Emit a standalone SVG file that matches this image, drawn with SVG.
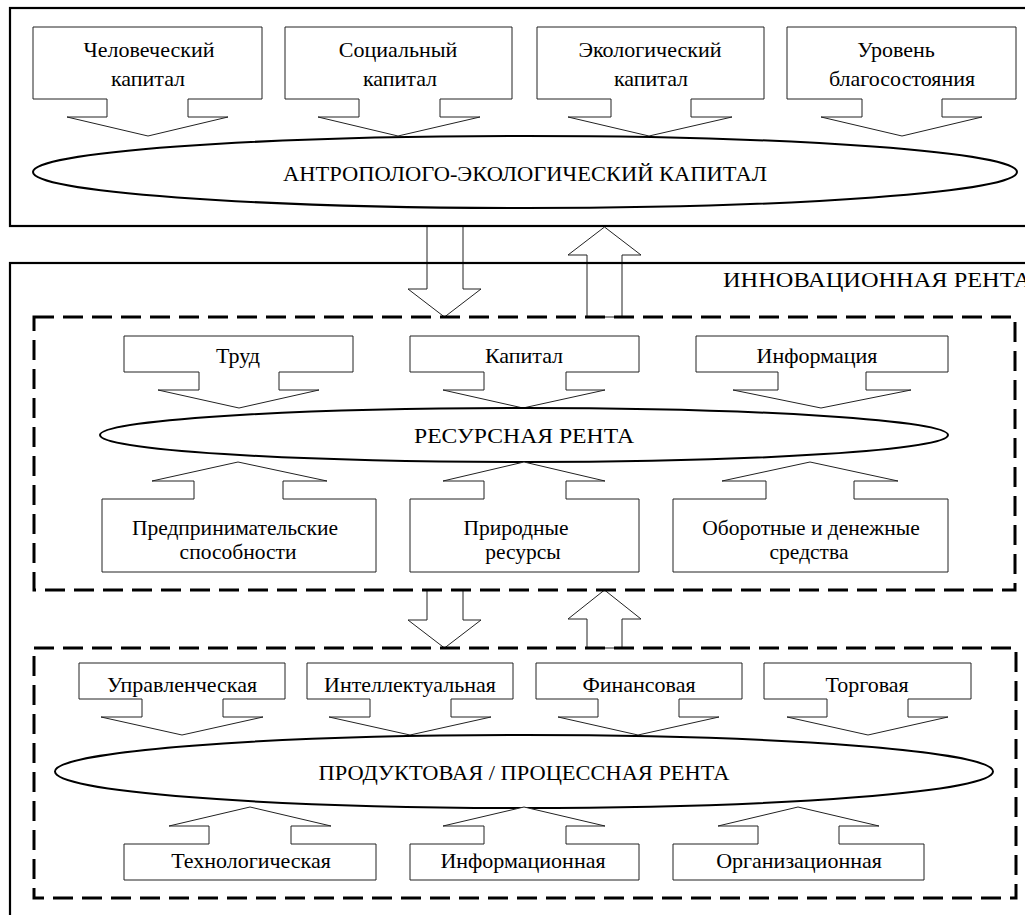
<svg xmlns="http://www.w3.org/2000/svg" width="1025" height="915" viewBox="0 0 1025 915">
<style>
text{font-family:"Liberation Serif","Times New Roman",serif;font-size:22px;fill:#000;text-anchor:middle}
.two{font-size:21.5px}
.node{fill:#fff;stroke:#222;stroke-width:1}
.ell{fill:#fff;stroke:#000;stroke-width:2}
.frame{fill:none;stroke:#000;stroke-width:2.2}
.dash{fill:none;stroke:#000;stroke-width:3;stroke-dasharray:20 9}
.arrow{fill:none;stroke:#222;stroke-width:1}
</style>
<rect width="1025" height="915" fill="#fff"/>
<g id="connectors">
<path class="arrow" d="M427 226V289H408L444.5 317L481 289H463V226"/>
<path class="arrow" d="M587 317V255H568L604.5 227L641 255H622V317Z"/>
<path class="arrow" d="M427 590V620H408L444.5 648L481 620H463V590"/>
<path class="arrow" d="M587 648V619H568L604.5 590L641 619H622V648Z"/>
</g>
<g id="frame-top"><rect class="frame" x="10" y="8" width="1030" height="218"/></g>
<g id="frame-innov"><rect class="frame" x="10" y="263" width="1030" height="700"/>
<text x="723" y="287" style="text-anchor:start" textLength="308" lengthAdjust="spacingAndGlyphs">ИННОВАЦИОННАЯ РЕНТА</text></g>
<g id="frame-resource"><rect class="dash" x="34" y="317" width="981" height="273"/></g>
<g id="frame-product"><rect class="dash" x="34" y="648" width="982" height="250"/></g>

<g id="n-human"><path class="node" d="M33 27H262V99H188V117H228L148 136L67 117H107V99H33Z"/><text x="149" y="57">Человеческий</text><text x="148" y="86">капитал</text></g>
<g id="n-social"><path class="node" d="M285 27H512V99H440V117H480L398 136L318 117H359V99H285Z"/><text x="398" y="57">Социальный</text><text x="400" y="86">капитал</text></g>
<g id="n-eco"><path class="node" d="M537 27H764V99H691V117H732L649 136L568 117H611V99H537Z"/><text x="650" y="57">Экологический</text><text x="651" y="86">капитал</text></g>
<g id="n-welfare"><path class="node" d="M787 27H1016V99H942V117H982L902 136L821 117H862V99H787Z"/><text x="896" y="57">Уровень</text><text x="902" y="86">благосостояния</text></g>
<g id="e-anthro"><ellipse class="ell" cx="525" cy="172" rx="492" ry="36"/><text x="525" y="181" textLength="484" lengthAdjust="spacingAndGlyphs">АНТРОПОЛОГО-ЭКОЛОГИЧЕСКИЙ КАПИТАЛ</text></g>

<g id="n-labor"><path class="node" d="M124 336H353V372H279V390H319L239 408L158 390H199V372H124Z"/><text x="238" y="363">Труд</text></g>
<g id="n-capital"><path class="node" d="M410 336H639V372H566V390H605L523 408L443 390H484V372H410Z"/><text x="524" y="363">Капитал</text></g>
<g id="n-info"><path class="node" d="M696 336H948V372H866V390H911L821 408L733 390H778V372H696Z"/><text x="817" y="363">Информация</text></g>
<g id="e-resource"><ellipse class="ell" cx="524" cy="435" rx="424" ry="27"/><text x="524" y="443" textLength="220" lengthAdjust="spacingAndGlyphs">РЕСУРСНАЯ РЕНТА</text></g>
<g id="n-entre"><path class="node" d="M102 572V499H194V481H152L238 462L327 481H283V499H376V572Z"/><text class="two" x="235" y="535">Предпринимательские</text><text class="two" x="238" y="559">способности</text></g>
<g id="n-nature"><path class="node" d="M410 572V499H484V481H443L524 462L605 481H566V499H639V572Z"/><text class="two" x="516" y="535">Природные</text><text class="two" x="523" y="559">ресурсы</text></g>
<g id="n-funds"><path class="node" d="M673 572V499H766V481H722L810 462L898 481H854V499H948V572Z"/><text class="two" x="811" y="535">Оборотные и денежные</text><text class="two" x="809" y="559">средства</text></g>

<g id="n-manag"><path class="node" d="M79 663H285V699H223V717H263L182 735L101 717H142V699H79Z"/><text x="182" y="692">Управленческая</text></g>
<g id="n-intel"><path class="node" d="M307 663H513V699H451V717H491L410 735L329 717H370V699H307Z"/><text x="410" y="692">Интеллектуальная</text></g>
<g id="n-fin"><path class="node" d="M536 663H742V699H679V717H719L638 735L558 717H598V699H536Z"/><text x="639" y="692">Финансовая</text></g>
<g id="n-trade"><path class="node" d="M764 663H971V699H908V717H948L868 735L787 717H827V699H764Z"/><text x="867" y="692">Торговая</text></g>
<g id="e-product"><ellipse class="ell" cx="524" cy="771.5" rx="469" ry="36.5"/><text x="524" y="780" textLength="411" lengthAdjust="spacingAndGlyphs">ПРОДУКТОВАЯ / ПРОЦЕССНАЯ РЕНТА</text></g>
<g id="n-tech"><path class="node" d="M124 880V844H209V826H169L250 807L331 826H291V844H376V880Z"/><text x="251" y="868">Технологическая</text></g>
<g id="n-infor"><path class="node" d="M410 880V844H484V826H443L524 807L605 826H566V844H639V880Z"/><text x="523" y="868">Информационная</text></g>
<g id="n-org"><path class="node" d="M673 880V844H758V826H718L798 807L879 826H839V844H924V880Z"/><text x="799" y="868">Организационная</text></g>
</svg>
